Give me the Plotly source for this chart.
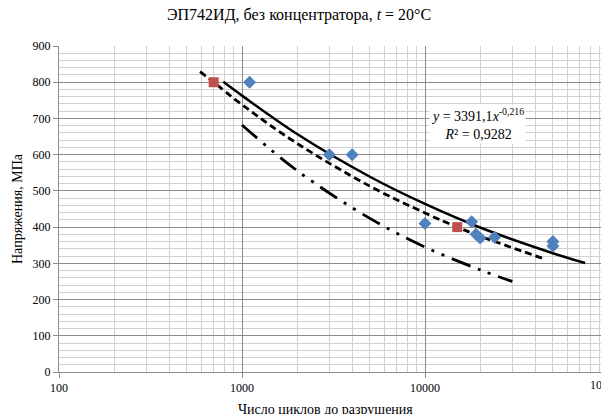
import plotly.graph_objects as go

# Experimental data
blue_x = [1100, 3000, 4000, 10000, 18000, 19000, 20000, 24000, 50000, 50000]
blue_y = [800, 600, 600, 410, 415, 380, 370, 372, 360, 348]
red_x = [700, 15000]
red_y = [800, 400]

# Curves
solid_x = [790, 1000, 2000, 5000, 10000, 20000, 50000, 75000]
solid_y = [801, 763, 657, 539, 464, 399, 328, 301]
dash_x = [590, 700, 1000, 2000, 5000, 10000, 15000, 20000, 45000]
dash_y = [829, 800, 738, 631, 513, 439, 400, 375, 312]
dd_x = [1000, 2000, 5000, 10000, 20000, 30000]
dd_y = [682, 556, 424, 345, 282, 250]

y_ticks = [0, 100, 200, 300, 400, 500, 600, 700, 800, 900]
x_ticks = [100, 1000, 10000]

W, H = 601, 414
L, T, B = 59, 46, 42
serif = "Liberation Serif"

fig = go.Figure()
fig.add_trace(go.Scatter(x=solid_x, y=solid_y, mode="lines", line=dict(color="black", width=2.5, shape="spline"), hoverinfo="skip"))
fig.add_trace(go.Scatter(x=dash_x, y=dash_y, mode="lines", line=dict(color="black", width=2.8, dash="7px,4px", shape="spline"), hoverinfo="skip"))
fig.add_trace(go.Scatter(x=dd_x, y=dd_y, mode="lines", line=dict(color="black", width=2.8, dash="20px,8px,3px,8px,3px,8px", shape="spline"), hoverinfo="skip"))
fig.add_trace(go.Scatter(x=blue_x, y=blue_y, mode="markers", marker=dict(symbol="diamond", size=10, color="#4F81BD")))
fig.add_trace(go.Scatter(x=red_x, y=red_y, mode="markers", marker=dict(symbol="square", size=10, color="#C0504D")))

pw = W - L
xmax = 2 + pw / 183.0

fig.update_layout(
    width=W, height=H,
    margin=dict(l=L, r=0, t=T, b=B),
    paper_bgcolor="white", plot_bgcolor="white",
    showlegend=False,
    font=dict(family=serif, size=12, color="black"),
    xaxis=dict(type="log", range=[2, xmax], tickvals=x_ticks, ticktext=[str(v) for v in x_ticks],
               showgrid=True, gridcolor="#8c8c8c", gridwidth=1,
               minor=dict(showgrid=True, gridcolor="#d0d0d0", dtick="D1"),
               ticks="outside", ticklen=5, tickcolor="#8c8c8c",
               showline=True, linecolor="#8c8c8c", zeroline=False,
               tickfont=dict(family=serif, size=12, color="black")),
    yaxis=dict(range=[0, 900], tickvals=y_ticks, showgrid=True, gridcolor="#8c8c8c", gridwidth=1,
               minor=dict(showgrid=True, gridcolor="#d0d0d0", dtick=20),
               ticks="outside", ticklen=5, tickcolor="#8c8c8c",
               showline=True, linecolor="#8c8c8c", zeroline=False,
               tickfont=dict(family=serif, size=12, color="black")),
)

annotations = [
    dict(text="ЭП742ИД, без концентратора, <i>t</i> = 20°C", xref="paper", yref="paper",
         x=(299 - L) / pw, y=1 + (T - 15) / (H - T - B), showarrow=False,
         font=dict(family=serif, size=16, color="black"), xanchor="center", yanchor="middle"),
    dict(text="Число циклов до разрушения", xref="paper", yref="paper",
         x=(325 - L) / pw, y=-(409 - (H - B)) / (H - T - B), showarrow=False,
         font=dict(family=serif, size=14, color="black"), xanchor="center", yanchor="middle"),
    dict(text="Напряжения, МПа", xref="paper", yref="paper", textangle=-90,
         x=-(L - 17) / pw, y=0.5, showarrow=False,
         font=dict(family=serif, size=14, color="black"), xanchor="center", yanchor="middle"),
    dict(text="100000", xref="paper", yref="paper",
         x=(608 - L) / pw, y=-(385 - (H - B)) / (H - T - B), showarrow=False,
         font=dict(family=serif, size=12, color="black"), xanchor="center", yanchor="middle"),
    dict(text="<i>y</i> = 3391,1<i>x</i><sup>-0,216</sup><br><i>R</i>² = 0,9282", xref="paper", yref="paper",
         x=(477 - L) / pw, y=1 - (124 - T) / (H - T - B), showarrow=False, bgcolor="white",
         font=dict(family=serif, size=14, color="black"), xanchor="center", yanchor="middle", align="center"),
]
fig.update_layout(annotations=annotations)

fig.write_html("out.html", config={"displayModeBar": False},
               post_script="document.body.style.margin='0';document.body.style.overflow='hidden';")
